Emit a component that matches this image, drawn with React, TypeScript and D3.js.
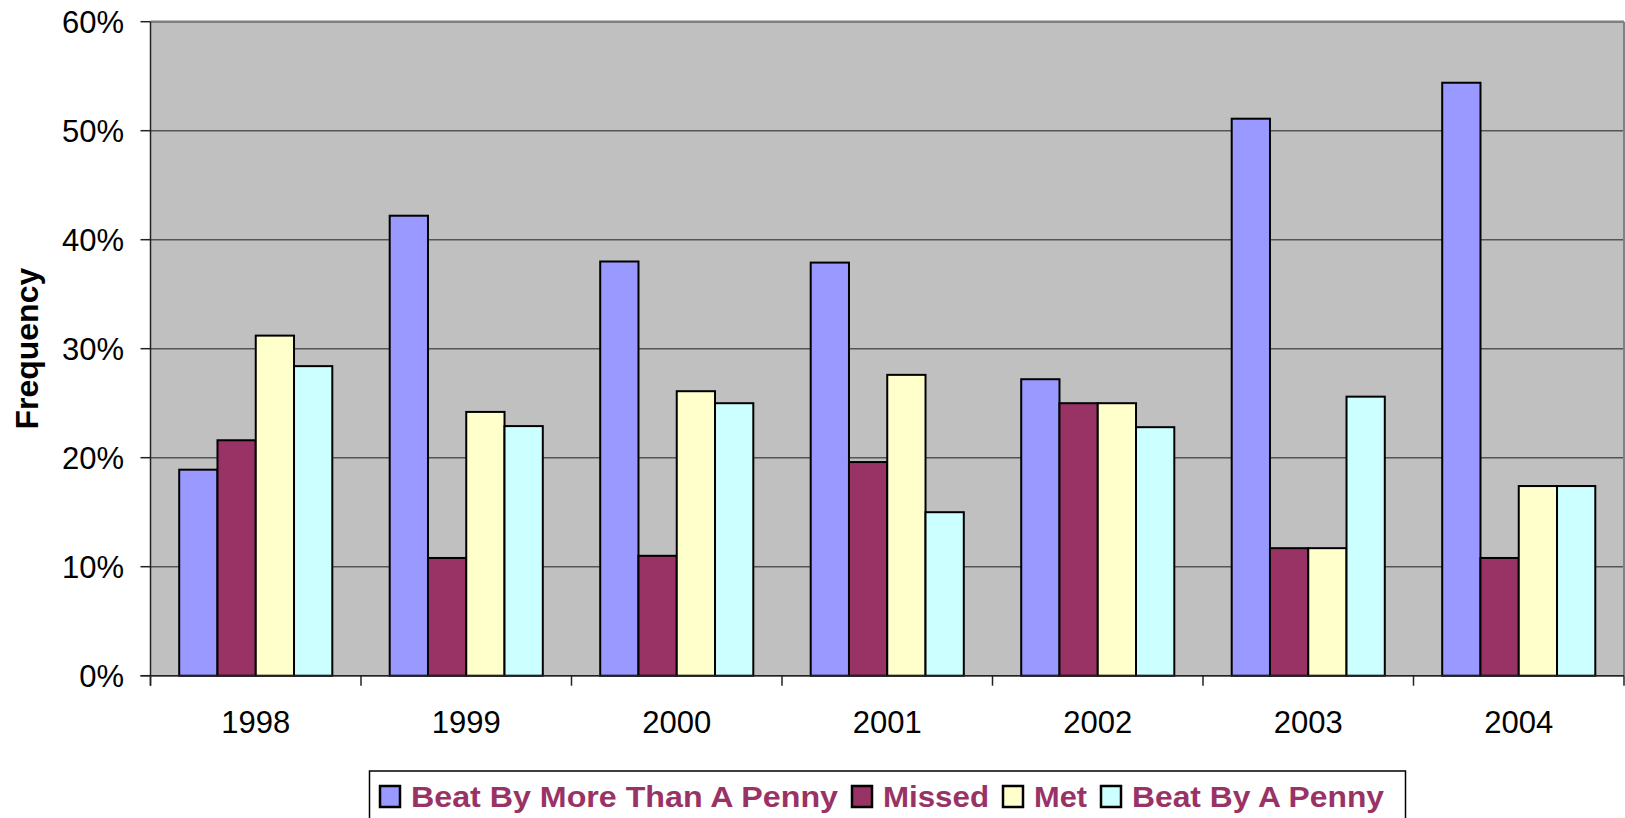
import * as d3 from "d3";
import React from "react";

const years = ["1998", "1999", "2000", "2001", "2002", "2003", "2004"];
const seriesNames = ["Beat By More Than A Penny", "Missed", "Met", "Beat By A Penny"];
const seriesColors = ["#9999FF", "#993366", "#FFFFCC", "#CCFFFF"];

// values in percent
const beatMore = [18.9, 42.2, 38.0, 37.9, 27.2, 51.1, 54.4];
const missed = [21.6, 10.8, 11.0, 19.6, 25.0, 11.7, 10.8];
const met = [31.2, 24.2, 26.1, 27.6, 25.0, 11.7, 17.4];
const beatPenny = [28.4, 22.9, 25.0, 15.0, 22.8, 25.6, 17.4];
const yTicks = [0, 10, 20, 30, 40, 50, 60];

const allSeries = [beatMore, missed, met, beatPenny];

const W = 1625;
const H = 818;
const left = 150.5;
const right = 1624;
const top = 21.7;
const bottom = 675.7;
const font = "'Liberation Sans', Arial, sans-serif";

// legend text widths as they appear (text is a little wide in the original)
const legendTextWidth = [427, 106, 53, 252];

export default function App() {
  const x0 = d3.scaleBand().domain(years).range([left, right]).padding(0);
  const x1 = d3
    .scaleBand()
    .domain(seriesNames)
    .range([0, x0.bandwidth()])
    .paddingInner(0)
    .paddingOuter(0.75);
  const y = d3.scaleLinear().domain([0, 60]).range([bottom, top]);

  const boundaries = years.map(d => x0(d)).concat([right]);

  // legend layout
  let lx = 380;
  const legendItems = seriesNames.map((name, i) => {
    const item = { name, color: seriesColors[i], sx: lx, tx: lx + 31, tw: legendTextWidth[i] };
    lx = item.tx + item.tw + 14;
    return item;
  });

  return (
    <svg
      width={W}
      height={H}
      style={{ position: "absolute", left: 0, top: 0, background: "#fff" }}
      fontFamily={font}
    >
      {/* plot background */}
      <rect x={left} y={top} width={right - left} height={bottom - top} fill="#C0C0C0" />

      {/* gridlines */}
      {yTicks.map(t => (
        <line
          key={"g" + t}
          x1={left}
          x2={right}
          y1={y(t)}
          y2={y(t)}
          stroke={t === 60 ? "#808080" : "#555"}
          strokeWidth={t === 60 ? 2.5 : 1.6}
        />
      ))}
      <line x1={right} x2={right} y1={top} y2={bottom} stroke="#808080" strokeWidth={2} />

      {/* bars */}
      {years.map((yr, i) => (
        <g key={yr} transform={`translate(${x0(yr)},0)`}>
          {seriesNames.map((s, j) => (
            <rect
              key={s}
              x={x1(s)}
              y={y(allSeries[j][i])}
              width={x1.bandwidth()}
              height={y(0) - y(allSeries[j][i])}
              fill={seriesColors[j]}
              stroke="#000"
              strokeWidth={2}
            />
          ))}
        </g>
      ))}

      {/* axes */}
      <line x1={left} x2={left} y1={top} y2={bottom + 10} stroke="#222" strokeWidth={1.5} />
      <line x1={left - 10} x2={right} y1={bottom} y2={bottom} stroke="#222" strokeWidth={1.5} />
      {yTicks.map(t => (
        <g key={"t" + t}>
          <line x1={left - 10} x2={left} y1={y(t)} y2={y(t)} stroke="#222" strokeWidth={1.5} />
          <text x={124} y={y(t) + 11} fontSize={31} textAnchor="end" fill="#000">
            {t + "%"}
          </text>
        </g>
      ))}
      {boundaries.map((b, i) => (
        <line key={"b" + i} x1={b} x2={b} y1={bottom} y2={bottom + 10} stroke="#222" strokeWidth={1.5} />
      ))}
      {years.map(yr => (
        <text key={"l" + yr} x={x0(yr) + x0.bandwidth() / 2} y={733} fontSize={31} textAnchor="middle" fill="#000">
          {yr}
        </text>
      ))}

      {/* y axis title */}
      <text
        transform={`translate(38,${(top + bottom) / 2}) rotate(-90)`}
        textAnchor="middle"
        fontSize={32}
        fontWeight="bold"
        fill="#000"
      >
        Frequency
      </text>

      {/* legend */}
      <rect x={369.5} y={771} width={1405.5 - 369.5} height={60} fill="#fff" stroke="#000" strokeWidth={1.5} />
      {legendItems.map(it => (
        <g key={it.name}>
          <rect x={it.sx} y={786} width={20} height={21} fill={it.color} stroke="#000" strokeWidth={2.5} />
          <text
            x={it.tx}
            y={807}
            fontSize={30}
            fontWeight="bold"
            fill="#993366"
            textLength={it.tw}
            lengthAdjust="spacingAndGlyphs"
          >
            {it.name}
          </text>
        </g>
      ))}
    </svg>
  );
}
